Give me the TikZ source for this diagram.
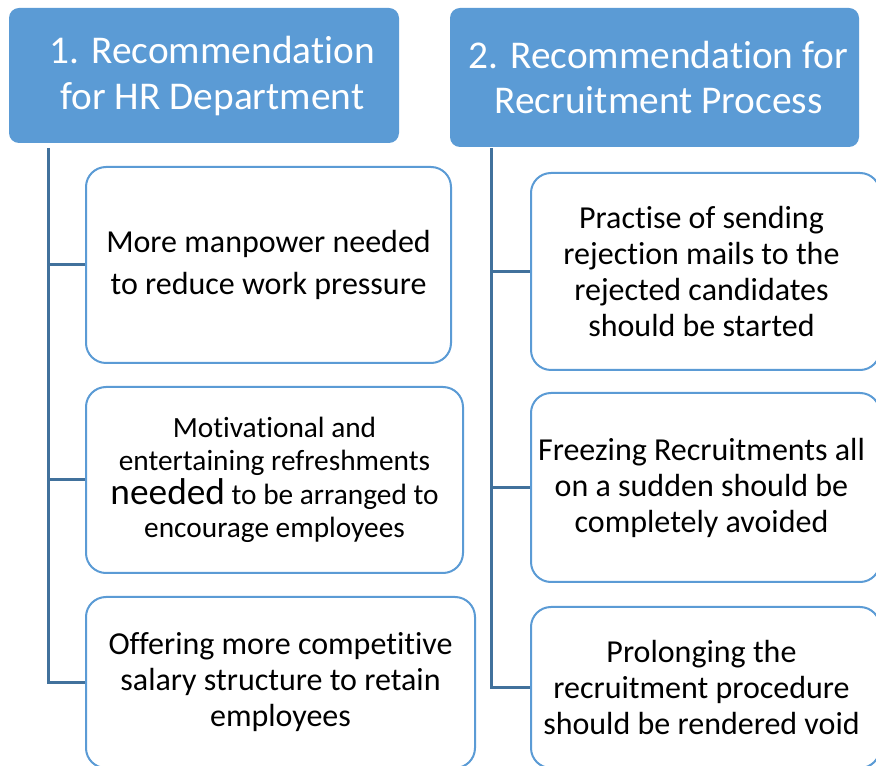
\documentclass[tikz,border=0pt]{standalone}
\usepackage{fontspec}
\setmainfont{Carlito}[Ligatures=NoCommon]
\usetikzlibrary{positioning}
\definecolor{headblue}{RGB}{91,155,213}
\definecolor{lineblue}{RGB}{65,113,156}

\tikzset{
  headbox/.style={fill=headblue, rounded corners=7.5pt, text=white, align=center,
    font=\fontsize{29.5}{34}\selectfont, inner sep=0pt},
  itembox/.style={draw=headblue, line width=1.5pt, rounded corners=15pt, align=center,
    font=\fontsize{24}{27}\selectfont, inner sep=0pt},
  conn/.style={draw=lineblue, line width=2.25pt},
}

\begin{document}
\begin{tikzpicture}[x=0.75pt,y=0.75pt,yscale=-1,xscale=1]
\useasboundingbox (0,0) rectangle (876,766);
\clip (0,0) rectangle (876,766);

% headers
\node[headbox, minimum width=292.5pt, minimum height=101.25pt, text depth=4pt] (hr) at (204,75.5)
  {\hspace*{12.5pt}1. Recommendation\\\hspace*{12.5pt}for HR Department};
\node[headbox, minimum width=306.75pt, minimum height=104.25pt] (rec) at (654.5,77.5)
  {\hspace*{6pt}2. Recommendation for\\\hspace*{6pt}Recruitment Process};

% left column
\node[itembox, minimum width=273.75pt, minimum height=147pt,
  font=\fontsize{24}{32}\selectfont] (hr1) at (268.5,265)
  {More manpower needed\\to reduce work pressure};
\node[itembox, minimum width=282.75pt, minimum height=139.5pt,
  font=\fontsize{22}{25}\selectfont] (hr2) at (274.5,480)
  {Motivational and\\entertaining refreshments\\{\fontsize{28}{27}\selectfont needed} to be arranged to\\encourage employees};
\node[itembox, minimum width=291.75pt, minimum height=128.25pt] (hr3) at (280.5,682.5)
  {Offering more competitive\\salary structure to retain\\employees};

% right column
\node[itembox, minimum width=261.75pt, minimum height=147.75pt] (rp1) at (705.5,271.5)
  {\hspace*{-6pt}Practise of sending\\\hspace*{-6pt}rejection mails to the\\\hspace*{-6pt}rejected candidates\\\hspace*{-6pt}should be started};
\node[itembox, minimum width=261.75pt, minimum height=141.75pt] (rp2) at (705.5,487.5)
  {\hspace*{-6pt}Freezing Recruitments all\\\hspace*{-6pt}on a sudden should be\\\hspace*{-6pt}completely avoided};
\node[itembox, minimum width=261.75pt, minimum height=120.75pt] (rp3) at (705.5,687.5)
  {\hspace*{-6pt}Prolonging the\\\hspace*{-6pt}recruitment procedure\\\hspace*{-6pt}should be rendered void};

% connectors
\coordinate (t1) at (48,148);
\coordinate (t2) at (491,148);
\draw[conn] (t1) |- (hr3.west);
\draw[conn] (t1 |- hr1.west) -- (hr1.west);
\draw[conn] (t1 |- hr2.west) -- (hr2.west);
\draw[conn] (t2) |- (rp3.west);
\draw[conn] (t2 |- rp1.west) -- (rp1.west);
\draw[conn] (t2 |- rp2.west) -- (rp2.west);

\end{tikzpicture}
\end{document}
